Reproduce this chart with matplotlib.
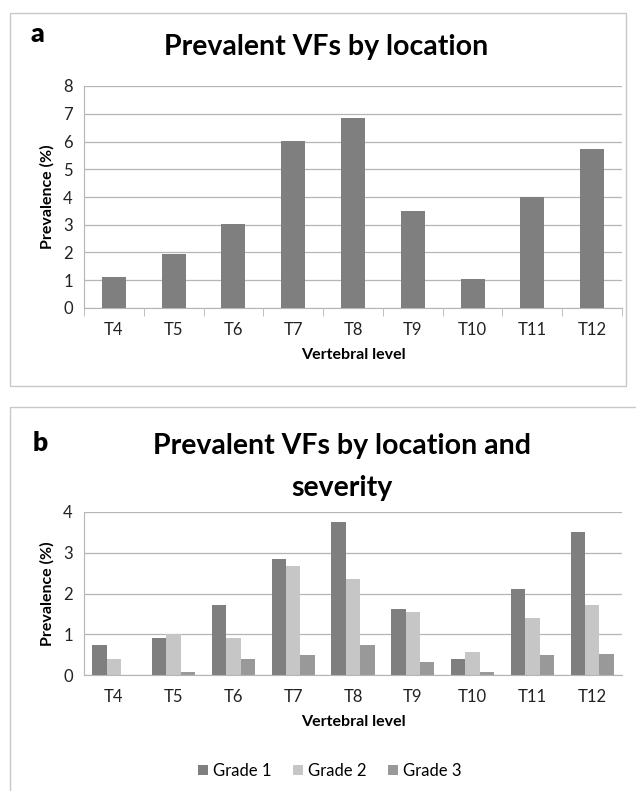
import matplotlib.pyplot as plt
import numpy as np
from matplotlib.patches import Rectangle

plt.rcParams['font.family'] = ['Lato', 'DejaVu Sans']

levels = ["T4", "T5", "T6", "T7", "T8", "T9", "T10", "T11", "T12"]
prevalence = [1.13, 1.95, 3.03, 6.02, 6.83, 3.50, 1.05, 4.00, 5.72]

grade1 = [0.73, 0.90, 1.72, 2.85, 3.75, 1.63, 0.40, 2.12, 3.50]
grade2 = [0.40, 1.00, 0.90, 2.68, 2.36, 1.55, 0.56, 1.39, 1.71]
grade3 = [0.00, 0.07, 0.40, 0.48, 0.73, 0.32, 0.07, 0.48, 0.51]
grade_names = ["Grade 1", "Grade 2", "Grade 3"]
grade_colors = ["#7f7f7f", "#c6c6c6", "#999999"]

W, H = 636, 791
fig = plt.figure(figsize=(W / 100, H / 100), dpi=100)


def fx(px):
    return px / W


def fy(py):
    return 1 - py / H


# panel frames
fig.add_artist(Rectangle((fx(10), fy(386)), fx(616), 373 / H, transform=fig.transFigure,
                         fill=False, edgecolor="#c8c8c8", lw=1))
fig.add_artist(Rectangle((fx(10), fy(800)), fx(640), 393 / H, transform=fig.transFigure,
                         fill=False, edgecolor="#c8c8c8", lw=1))


def style_axes(ax, ymax, step, ticks_out):
    ax.set_ylim(0, ymax)
    ax.set_yticks(np.arange(0, ymax + 0.01, step))
    ax.set_xlim(-0.5, len(levels) - 0.5)
    ax.yaxis.grid(True, color="#b5b5b5", lw=0.9)
    ax.set_axisbelow(True)
    for s in ["top", "right"]:
        ax.spines[s].set_visible(False)
    ax.spines["left"].set_color("#b5b5b5")
    ax.spines["bottom"].set_color("#b5b5b5")
    ax.tick_params(axis="y", length=0, labelsize=12, pad=8, colors="#222222")
    ax.set_xticks(range(len(levels)))
    ax.set_xticklabels(levels)
    ax.tick_params(axis="x", length=0, labelsize=12, pad=10, colors="#222222")
    if ticks_out:
        ax.set_xticks(np.arange(-0.5, len(levels), 1), minor=True)
        ax.tick_params(axis="x", which="minor", length=6, color="#b5b5b5", direction="out")
    ax.set_ylabel("Prevalence (%)", fontsize=11.5, fontweight="bold", labelpad=6)
    ax.set_xlabel("Vertebral level", fontsize=11.5, fontweight="bold", labelpad=7)


# panel a
ax1 = fig.add_axes([fx(84), fy(308), fx(538), (308 - 86) / H])
x = np.arange(len(levels))
ax1.bar(x, prevalence, width=0.4, color="#7f7f7f")
style_axes(ax1, 8, 1, True)
fig.text(fx(37), fy(34), "a", fontsize=19, fontweight="heavy", ha="center", va="center")
fig.text(fx(326), fy(47), "Prevalent VFs by location", fontsize=20.5, fontweight="bold",
         ha="center", va="center")

# panel b
ax2 = fig.add_axes([fx(84), fy(675), fx(538), (675 - 512) / H])
bw = 0.24
for i, (vals, name, col) in enumerate(zip([grade1, grade2, grade3], grade_names, grade_colors)):
    ax2.bar(x + (i - 1) * bw, vals, width=bw, color=col, label=name)
style_axes(ax2, 4, 1, False)
fig.text(fx(40), fy(443), "b", fontsize=19, fontweight="heavy", ha="center", va="center")
fig.text(fx(342), fy(446), "Prevalent VFs by location and", fontsize=20.5, fontweight="bold",
         ha="center", va="center")
fig.text(fx(342), fy(488), "severity", fontsize=20.5, fontweight="bold",
         ha="center", va="center")
fig.legend(loc="center", bbox_to_anchor=(fx(330), fy(771)), ncol=3, frameon=False,
           fontsize=12, handlelength=0.6, handleheight=0.6, handletextpad=0.3,
           columnspacing=1.3)

fig.savefig("out.png", dpi=100, facecolor="white")
